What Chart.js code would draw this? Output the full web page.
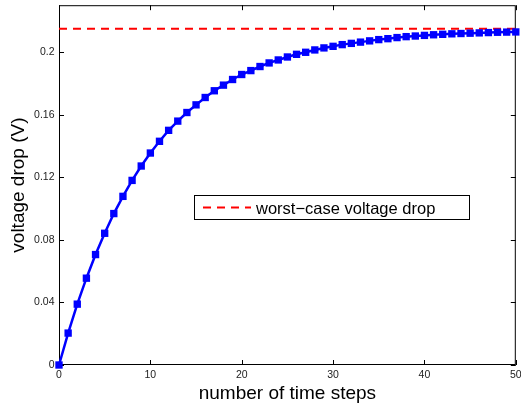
<!DOCTYPE html>
<html>
<head>
<meta charset="utf-8">
<script src="https://cdn.jsdelivr.net/npm/chart.js@4.4.1/dist/chart.umd.min.js"></script>
<style>
  body { margin: 0; background: #fff; }
  canvas { display: block; }
</style>
</head>
<body>
<canvas id="myChart" width="521" height="409"></canvas>
<script>
// values
const steps = [0,1,2,3,4,5,6,7,8,9,10,11,12,13,14,15,16,17,18,19,20,21,22,23,24,25,
               26,27,28,29,30,31,32,33,34,35,36,37,38,39,40,41,42,43,44,45,46,47,48,49,50];
const voltageDrop = [0, 0.0204, 0.0389, 0.0555, 0.0706, 0.0842, 0.0968, 0.1078, 0.1180, 0.1272,
                     0.1355, 0.1430, 0.1500, 0.1559, 0.1614, 0.1663, 0.1710, 0.1753, 0.1789, 0.1825,
                     0.1857, 0.1882, 0.1908, 0.1931, 0.1950, 0.1969, 0.1986, 0.1999, 0.2014, 0.2027,
                     0.2037, 0.2048, 0.2056, 0.2064, 0.2072, 0.2080, 0.2086, 0.2093, 0.2099, 0.2103,
                     0.2107, 0.2111, 0.2114, 0.2117, 0.2119, 0.2121, 0.2123, 0.2125, 0.2127, 0.2128, 0.2129];
const worstCase = 0.215;
const xTicks = [0, 10, 20, 30, 40, 50];
const yTicks = [0, 0.04, 0.08, 0.12, 0.16, 0.2];
const yTickLabels = ['0', '0.04', '0.08', '0.12', '0.16', '0.2'];

const FONT = '"Liberation Sans", Arial, Helvetica, sans-serif';

// matlab style box + inward ticks + legend in the middle
const matlabFrame = {
  id: 'matlabFrame',
  beforeDatasetsDraw(chart) {
    const {ctx, chartArea: a, scales: {x, y}} = chart;
    ctx.save();
    ctx.strokeStyle = '#000';
    ctx.lineWidth = 1;
    ctx.strokeRect(a.left + 0.5, a.top + 0.5, a.right - a.left - 1, a.bottom - a.top - 1);
    ctx.beginPath();
    xTicks.forEach(v => {
      const px = Math.round(x.getPixelForValue(v)) + 0.5;
      ctx.moveTo(px, a.bottom); ctx.lineTo(px, a.bottom - 5);
      ctx.moveTo(px, a.top); ctx.lineTo(px, a.top + 5);
    });
    yTicks.forEach(v => {
      const py = Math.round(y.getPixelForValue(v)) + 0.5;
      ctx.moveTo(a.left, py); ctx.lineTo(a.left + 5, py);
      ctx.moveTo(a.right, py); ctx.lineTo(a.right - 5, py);
    });
    ctx.stroke();
    ctx.restore();
  },
  afterDraw(chart) {
    const {ctx} = chart;
    const ds = chart.data.datasets[1];
    const bx = 194.5, by = 195.5, bw = 275, bh = 24;
    ctx.save();
    ctx.fillStyle = '#fff';
    ctx.fillRect(bx, by, bw, bh);
    ctx.strokeStyle = '#000';
    ctx.lineWidth = 1;
    ctx.strokeRect(bx, by, bw, bh);
    ctx.strokeStyle = ds.borderColor;
    ctx.lineWidth = ds.borderWidth;
    ctx.setLineDash(ds.borderDash);
    ctx.beginPath();
    ctx.moveTo(203, 207.5);
    ctx.lineTo(251, 207.5);
    ctx.stroke();
    ctx.setLineDash([]);
    ctx.fillStyle = '#000';
    ctx.font = '16.5px ' + FONT;
    ctx.textBaseline = 'alphabetic';
    ctx.fillText(ds.label, 256, 213.5);
    ctx.restore();
  }
};

const ctx = document.getElementById('myChart').getContext('2d');
new Chart(ctx, {
  type: 'line',
  data: {
    datasets: [
      {
        label: 'voltage drop',
        data: steps.map((s, i) => ({x: s, y: voltageDrop[i]})),
        borderColor: '#0000ff',
        backgroundColor: '#0000ff',
        borderWidth: 2.5,
        pointStyle: 'rect',
        pointRadius: 5.2,
        pointBorderWidth: 0,
        pointBackgroundColor: '#0000ff',
        tension: 0,
        clip: false
      },
      {
        label: 'worst\u2212case voltage drop',
        data: [{x: steps[0], y: worstCase}, {x: steps[steps.length - 1], y: worstCase}],
        borderColor: '#ff0000',
        borderWidth: 2,
        borderDash: [8, 6],
        pointRadius: 0,
        tension: 0,
        clip: false
      }
    ]
  },
  options: {
    responsive: false,
    animation: false,
    layout: { padding: { top: 4, right: 3.5, left: 0, bottom: 0 } },
    plugins: {
      legend: { display: false },
      tooltip: { enabled: false }
    },
    scales: {
      x: {
        type: 'linear',
        min: 0,
        max: 50,
        grid: { display: false, drawTicks: false },
        border: { display: false },
        afterBuildTicks: s => { s.ticks = xTicks.map(v => ({value: v})); },
        afterFit: s => { s.height = 44; s.paddingLeft = 0; s.paddingRight = 0; },
        ticks: {
          autoSkip: false,
          maxRotation: 0,
          padding: 4,
          color: '#222',
          font: { family: FONT, size: 10.5 },
          callback: v => String(v)
        },
        title: {
          display: true,
          text: 'number of time steps',
          color: '#000',
          font: { family: FONT, size: 19 },
          padding: { top: 0, bottom: 4 }
        }
      },
      y: {
        min: 0,
        max: 0.23,
        grid: { display: false, drawTicks: false },
        border: { display: false },
        afterBuildTicks: s => { s.ticks = yTicks.map(v => ({value: v})); },
        afterFit: s => { s.width = 59; s.paddingTop = 0; s.paddingBottom = 0; },
        ticks: {
          autoSkip: false,
          padding: 4.5,
          color: '#222',
          font: { family: FONT, size: 10.5 },
          callback: (v, i) => yTickLabels[i]
        },
        title: {
          display: true,
          text: 'voltage drop (V)',
          color: '#000',
          font: { family: FONT, size: 19 },
          padding: { top: 7, bottom: 0 }
        }
      }
    }
  },
  plugins: [matlabFrame]
});
</script>
</body>
</html>
